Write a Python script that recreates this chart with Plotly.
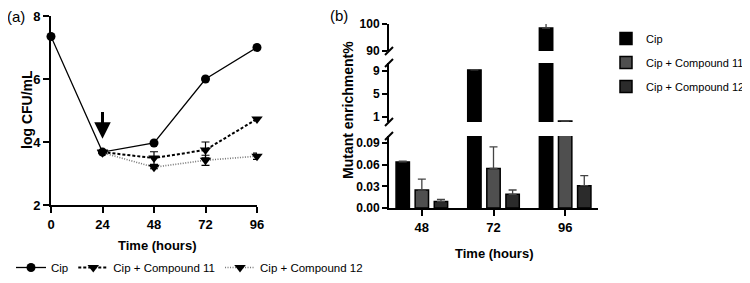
import plotly.graph_objects as go

# page is 750x283; the browser's default 8px body margin offsets the figure
PAGE_OFF = 8
W, H = 750 - PAGE_OFF, 283 - PAGE_OFF

# ---------- Panel (a) data ----------
time_a = [0, 24, 48, 72, 96]
cip_a = [7.35, 3.68, 3.97, 6.0, 7.0]
c11_time = [24, 48, 72, 96]
c11_a = [3.68, 3.49, 3.75, 4.73]
c11_err = [0.03, 0.2, 0.25, 0.04]
c12_time = [24, 48, 72, 96]
c12_a = [3.66, 3.2, 3.42, 3.55]
c12_err = [0.03, 0.05, 0.16, 0.1]

# ---------- Panel (b) data ----------
time_b = [48, 72, 96]
cip_b = [0.064, 9.2, 98.5]
cip_b_err = [0.001, 0.05, 2.6]
c11_b = [0.025, 0.055, 0.3]
c11_b_err = [0.015, 0.03, 0.0]
c12_b = [0.009, 0.019, 0.031]
c12_b_err = [0.003, 0.006, 0.014]

# broken y axis segments of panel (b): (axis, range, tick values)
segments = [
    ("y2", [90, 100], [90, 100]),
    ("y3", [0.13, 10.4], [1, 5, 9]),
    ("y4", [0, 0.1], [0, 0.03, 0.06, 0.09]),
]

FONT = "Liberation Sans, Arial"

def px(x):
    return (x - PAGE_OFF) / W

def py(y):
    return 1 - (y - PAGE_OFF) / H

fig = go.Figure()

# ---- Panel (a) traces ----
fig.add_trace(go.Scatter(
    x=time_a, y=cip_a, mode="lines+markers", name="Cip",
    line=dict(color="black", width=1.3),
    marker=dict(symbol="circle", size=9, color="black"),
    cliponaxis=False, xaxis="x", yaxis="y", legend="legend"))
fig.add_trace(go.Scatter(
    x=c11_time, y=c11_a, mode="lines+markers", name="Cip + Compound 11",
    line=dict(color="black", width=2, dash="3px,2px"),
    marker=dict(symbol="triangle-down", size=10, color="black"),
    error_y=dict(type="data", array=c11_err, color="black", thickness=1.2, width=4),
    cliponaxis=False, xaxis="x", yaxis="y", legend="legend"))
fig.add_trace(go.Scatter(
    x=c12_time, y=c12_a, mode="lines+markers", name="Cip + Compound 12",
    line=dict(color="#777777", width=1.6, dash="1px,1.5px"),
    marker=dict(symbol="triangle-down", size=10, color="black"),
    error_y=dict(type="data", array=c12_err, color="black", thickness=1.2, width=4),
    cliponaxis=False, xaxis="x", yaxis="y", legend="legend"))

# ---- Panel (b) traces: same bars on three stacked y axes ----
series = [
    ("Cip", cip_b, cip_b_err, "black"),
    ("Cip + Compound 11", c11_b, c11_b_err, "#4f4f4f"),
    ("Cip + Compound 12", c12_b, c12_b_err, "#2b2b2b"),
]
for ax_i, (yax, rng, _) in enumerate(segments):
    for name, vals, errs, col in series:
        shown = [v if v > rng[0] else None for v in vals]
        fig.add_trace(go.Bar(
            x=time_b, y=shown, name=name,
            marker=dict(color=col, line=dict(color="black", width=1.5)),
            error_y=dict(type="data", array=errs, arrayminus=[0] * len(errs),
                         symmetric=False, color="#444444", thickness=1.3, width=4),
            xaxis="x2", yaxis=yax, legend="legend2",
            legendgroup=name, showlegend=(ax_i == 2)))

tickfont = dict(family=FONT, size=13, color="black", weight="bold")
tickfont_b = dict(family=FONT, size=12, color="black", weight="bold")

common_axis = dict(showline=True, linecolor="black", linewidth=2, ticks="outside",
                   tickcolor="black", tickwidth=2, showgrid=False, zeroline=False)

layout_axes = dict(
    xaxis=dict(domain=[px(51), px(257)], range=[0, 96], tickvals=[0, 24, 48, 72, 96],
               anchor="y", ticklen=6, tickfont=tickfont, **common_axis),
    yaxis=dict(domain=[py(205), py(16)], range=[2, 8], tickvals=[2, 4, 6, 8],
               anchor="x", ticklen=6, tickfont=tickfont, **common_axis),
    xaxis2=dict(domain=[px(389), px(598)], range=[37, 107], tickvals=[48, 72, 96],
                anchor="y4", ticklen=6, tickfont=tickfont, **common_axis),
)
seg_domains = {"y2": [py(51), py(24)], "y3": [py(122), py(63)], "y4": [py(208), py(136)]}
for yax, rng, tv in segments:
    key = "yaxis" + yax[1:]
    d = dict(domain=seg_domains[yax], range=rng, tickvals=tv, anchor="x2",
             ticklen=5, tickfont=tickfont_b, **common_axis)
    if yax == "y4":
        d["tickformat"] = ".2f"
    layout_axes[key] = d

fig.update_layout(
    width=W, height=H, margin=dict(l=0, r=0, t=0, b=0, autoexpand=False),
    paper_bgcolor="white", plot_bgcolor="rgba(0,0,0,0)",
    barmode="group", bargap=0.2, bargroupgap=0.3,
    showlegend=True,
    legend=dict(orientation="h", x=px(11), y=py(253), xanchor="left", yanchor="top",
                font=dict(family=FONT, size=11.5, color="black"),
                bgcolor="rgba(0,0,0,0)", itemwidth=30),
    legend2=dict(orientation="v", x=px(606), y=py(24), xanchor="left", yanchor="top",
                 font=dict(family=FONT, size=11, color="black"),
                 bgcolor="rgba(0,0,0,0)", tracegroupgap=5),
    **layout_axes,
)

annotations = [
    dict(text="(a)", x=px(16), y=py(17), xref="paper", yref="paper",
         xanchor="center", yanchor="middle",
         showarrow=False, font=dict(family=FONT, size=15, color="black")),
    dict(text="(b)", x=px(339), y=py(16), xref="paper", yref="paper",
         xanchor="center", yanchor="middle",
         showarrow=False, font=dict(family=FONT, size=15, color="black")),
    dict(text="log CFU/mL", x=px(27), y=py(110), xref="paper", yref="paper",
         xanchor="center", yanchor="middle", textangle=-90, showarrow=False,
         font=dict(family=FONT, size=14, color="black", weight="bold")),
    dict(text="Mutant enrichment%", x=px(348), y=py(110), xref="paper", yref="paper",
         xanchor="center", yanchor="middle", textangle=-90, showarrow=False,
         font=dict(family=FONT, size=14, color="black", weight="bold")),
    dict(text="Time (hours)", x=px(157), y=py(245), xref="paper", yref="paper",
         xanchor="center", yanchor="middle",
         showarrow=False, font=dict(family=FONT, size=13, color="black", weight="bold")),
    dict(text="Time (hours)", x=px(494), y=py(253), xref="paper", yref="paper",
         xanchor="center", yanchor="middle",
         showarrow=False, font=dict(family=FONT, size=13, color="black", weight="bold")),
    # arrow marking the addition of compound at 24 h
    dict(x=24, y=4.1, ax=24, ay=5.0, xref="x", yref="y", axref="x", ayref="y",
         text="", showarrow=True, arrowhead=2, arrowsize=1.1, arrowwidth=3,
         arrowcolor="black"),
]
fig.update_layout(annotations=annotations)

# axis break marks on panel (b)
shapes = []
for yb in [51, 63, 122, 136]:
    shapes.append(dict(type="line", xref="paper", yref="paper",
                       x0=px(385), y0=py(yb + 4), x1=px(393), y1=py(yb - 4),
                       line=dict(color="black", width=2)))
fig.update_layout(shapes=shapes)

fig.write_html("out.html")
